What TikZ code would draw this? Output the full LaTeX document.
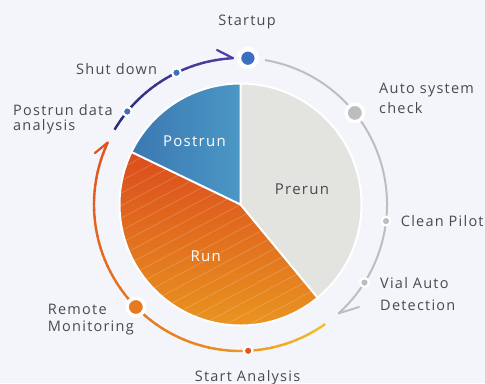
\documentclass[tikz,border=0pt]{standalone}
\usepackage{fontspec}
\setmainfont{Open Sans}[LetterSpace=8.5]
\usetikzlibrary{calc}

\definecolor{bg}{HTML}{F3F5FA}
\definecolor{txt}{HTML}{4A4A4A}
\definecolor{prerunfill}{HTML}{E3E3E0}
\definecolor{runA}{HTML}{DB4C1D}
\definecolor{runB}{HTML}{E05A1F}
\definecolor{runC}{HTML}{EA9A20}
\definecolor{pstA}{HTML}{3B78B2}
\definecolor{pstB}{HTML}{4B97C5}
\definecolor{ringgray}{HTML}{BEBEBE}
\definecolor{ylw}{HTML}{F2BE2B}
\definecolor{org}{HTML}{E98A1F}
\definecolor{rd}{HTML}{E0521F}
\definecolor{navyA}{HTML}{2A2D76}
\definecolor{navyB}{HTML}{4F3FA3}
\definecolor{dotblue}{HTML}{3E70C0}
\definecolor{dotgray}{HTML}{BDBDBD}
\definecolor{dotorange}{HTML}{E7791F}
\definecolor{dotred}{HTML}{E0561F}

\newcommand\stacklines[1]{\begin{tabular}[t]{@{}l@{}}#1\end{tabular}}

\begin{document}
\begin{tikzpicture}[x=1bp,y=1bp,
  lbl/.style={inner sep=0pt, text=txt, font=\fontsize{14.5bp}{15.7bp}\selectfont},
  pielbl/.style={inner sep=0pt, font=\fontsize{15bp}{17bp}\selectfont},
  bigdot/.style={circle, inner sep=0pt, minimum size=17.5bp, draw=white, line width=3.5bp},
  smalldot/.style={circle, inner sep=0pt, minimum size=8.8bp, draw=white, line width=2.2bp},
  ringline/.style={line width=2.4bp},
  barb/.style={line width=2.2bp, line cap=round}]
\useasboundingbox (0,0) rectangle (485,383);
\fill[bg] (0,0) rectangle (485,383);

\coordinate (O) at (240.5,178.5);
\def\pr{121}
\def\R{146.5}

% --- pie: Prerun, Run, Postrun
\fill[prerunfill] (O) -- ++(90:\pr) arc[start angle=90,end angle=-50.4,radius=\pr] -- cycle;
\shade[top color=runA, middle color=runB, bottom color=runC]
  (O) -- ++(-50.4:\pr) arc[start angle=-50.4,end angle=-205.7,radius=\pr] -- cycle;
\begin{scope}
  \clip (O) -- ++(-50.4:\pr) arc[start angle=-50.4,end angle=-205.7,radius=\pr] -- cycle;
  \begin{scope}[shift={(O)}, rotate=28]
    \foreach \k in {-14,...,14}
      \draw[white, opacity=.22, line width=.6bp] (-170,\k*11) -- (170,\k*11);
  \end{scope}
\end{scope}
\shade[left color=pstA, right color=pstB]
  (O) -- ++(154.3:\pr) arc[start angle=154.3,end angle=90,radius=\pr] -- cycle;
\draw[white, line width=2bp] (O) circle[radius=\pr];
\draw[white, line width=2bp] (O) -- ++(90:\pr) (O) -- ++(-50.4:\pr) (O) -- ++(154.3:\pr);

\node[pielbl, text=white, anchor=base] (pPost) at (194.4,236.3) {Postrun};
\node[pielbl, text=txt, anchor=base] (pPre) at (302,189) {Prerun};
\node[pielbl, text=white, anchor=base] (pRun) at (205.7,121.3) {Run};

% --- gray arc: startup to vial detection
\draw[ringgray, line width=2bp] ($(O)+(80.4:\R)$)
  arc[start angle=80.4, end angle=-48, radius=\R] coordinate (gtip);
\coordinate (garm) at (359,76);
\draw[ringgray, line width=2bp, line cap=round, line join=round] (gtip) -- (garm);

% --- orange arc: start analysis around to postrun
\foreach \i in {0,...,59} {
  \pgfmathsetmacro\a{-54.7-\i*2.507}
  \pgfmathsetmacro\b{max(\a-2.9,-205.1)}
  \pgfmathsetmacro\pa{min(100,\i/18*100)}
  \pgfmathsetmacro\pb{max(0,(\i-18)/41*100)}
  \colorlet{segA}{org!\pa!ylw}
  \colorlet{segB}{rd!\pb!segA}
  \draw[segB, ringline] ($(O)+(\a:\R)$) arc[start angle=\a, end angle=\b, radius=\R];
}
\coordinate (otip) at ($(O)+(154.9:\R)$);
\coordinate (oarm) at (95,230);
\draw[rd, barb] (otip) -- (oarm);

% --- navy arc: postrun back to startup
\foreach \i in {0,...,23} {
  \pgfmathsetmacro\a{149.3-\i*2.35}
  \pgfmathsetmacro\b{max(\a-2.75,92.9)}
  \pgfmathsetmacro\pc{\i/23*100}
  \colorlet{segC}{navyB!\pc!navyA}
  \draw[segC, ringline] ($(O)+(\a:\R)$) arc[start angle=\a, end angle=\b, radius=\R];
}
\coordinate (btip) at ($(O)+(92.9:\R)$);
\coordinate (barm) at (217,333);
\draw[navyB, barb] (btip) -- (barm);

% --- stage dots
\node[bigdot, fill=dotblue, minimum size=18bp, line width=4.5bp] (startup) at ($(O)+(87.1:\R)$) {};
\node[bigdot, fill=dotgray] (auto) at ($(O)+(38.7:\R)$) {};
\node[smalldot, fill=dotgray] (clean) at ($(O)+(-6.5:\R)$) {};
\node[smalldot, fill=dotgray] (vial) at ($(O)+(-32.2:\R)$) {};
\node[smalldot, fill=dotred] (startan) at ($(O)+(-87:\R)$) {};
\node[bigdot, fill=dotorange] (remote) at ($(O)+(-135.6:\R)$) {};
\node[smalldot, fill=dotblue] (pda) at ($(O)+(140.6:\R)$) {};
\node[smalldot, fill=dotblue] (shut) at ($(O)+(115.9:\R)$) {};

% --- stage labels
\node[lbl, anchor=base] (tStartup) at (247,358) {Startup};
\node[lbl, anchor=base west] (tShut) at (76,309) {Shut down};
\node[lbl, anchor=base west] (tPda) at (13,268) {\stacklines{Postrun data\\analysis}};
\node[lbl, anchor=base west] (tAuto) at (379,289.7) {\stacklines{Auto system\\[4.3bp]check}};
\node[lbl, anchor=base west] (tClean) at (400.7,157) {Clean Pilot};
\node[lbl, anchor=base west] (tVial) at (380,94.7) {\stacklines{Vial Auto\\[6bp]Detection}};
\node[lbl, anchor=base west] (tRemote) at (47.7,68.7) {\stacklines{Remote\\[1bp]Monitoring}};
\node[lbl, anchor=base] (tStart) at (247.5,2) {Start Analysis};
\end{tikzpicture}
\end{document}
